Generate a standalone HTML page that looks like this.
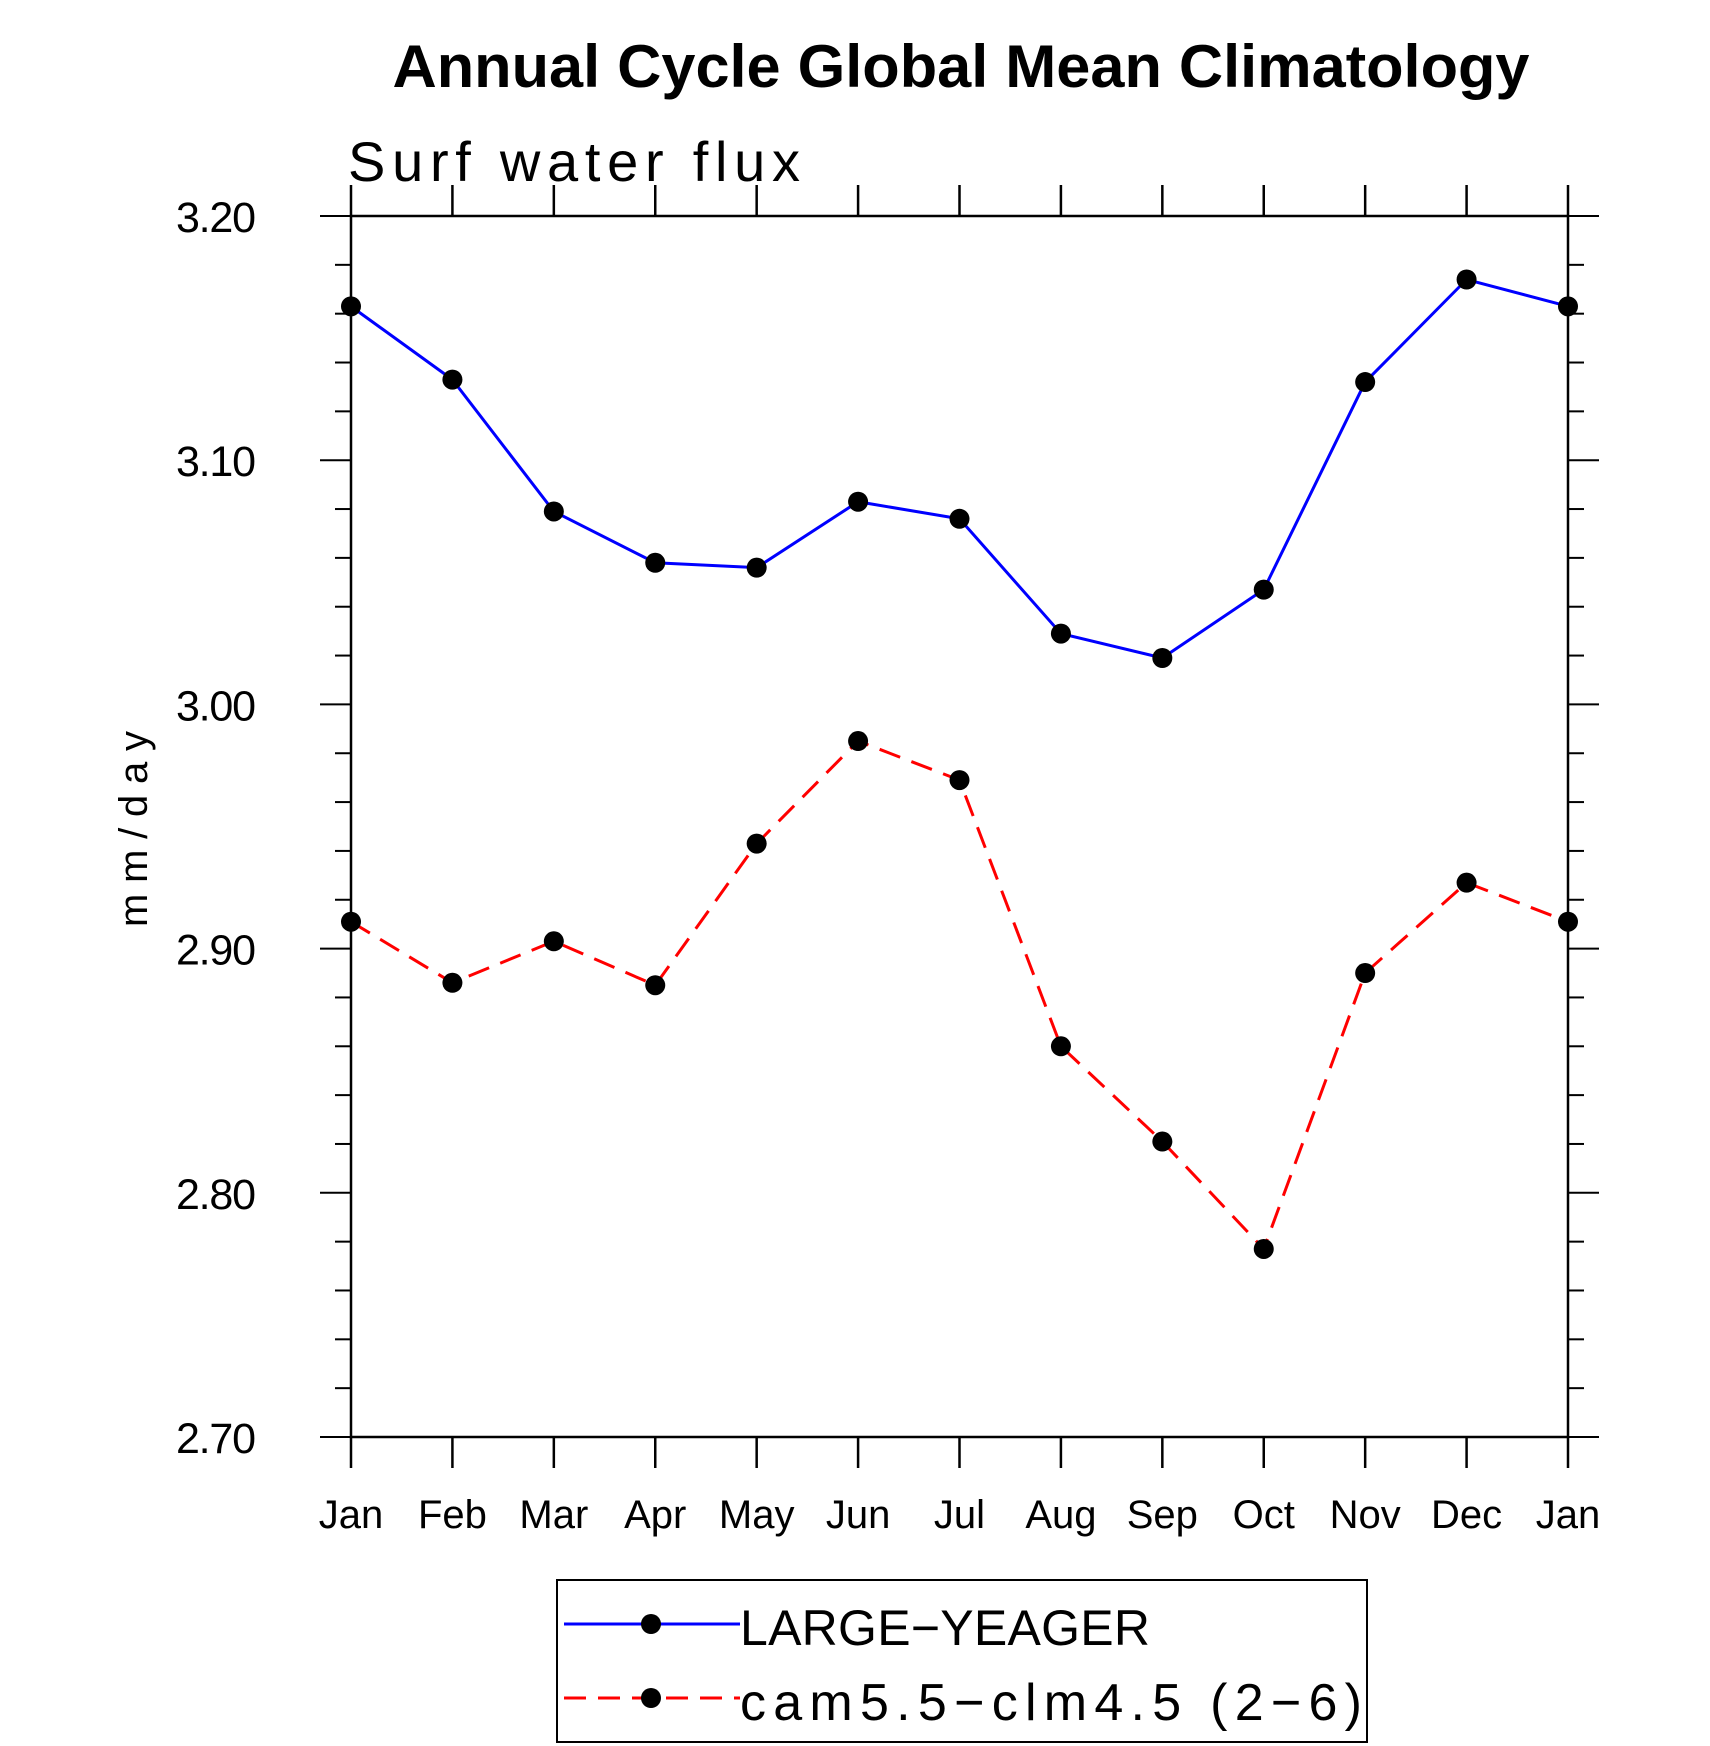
<!DOCTYPE html>
<html><head><meta charset="utf-8"><style>
html,body{margin:0;padding:0;background:#fff;}
svg{display:block;font-family:"Liberation Sans",sans-serif;}
</style></head><body>
<svg id="chart" width="1710" height="1746" viewBox="0 0 1710 1746" xmlns="http://www.w3.org/2000/svg">
<text x="961" y="87" text-anchor="middle" font-size="60" font-weight="bold" textLength="1137" lengthAdjust="spacingAndGlyphs">Annual Cycle Global Mean Climatology</text>
<text x="348" y="181" font-size="56" font-weight="300" textLength="452" lengthAdjust="spacing">Surf water flux</text>
<text transform="translate(147,829) rotate(-90)" text-anchor="middle" font-size="40" textLength="196" lengthAdjust="spacing">mm/day</text>
<g id="axes"></g>
<g id="series"></g>
<g>
<rect x="557" y="1580" width="810" height="162" fill="none" stroke="#000" stroke-width="2"/>
<g>
<line x1="564" y1="1624" x2="740" y2="1624" stroke="#00f" stroke-width="3"/>
<circle cx="651" cy="1624" r="10" fill="#000"/>
<text x="740" y="1645" font-size="50" textLength="410" lengthAdjust="spacing">LARGE−YEAGER</text>
</g>
<g>
<line x1="564" y1="1698" x2="740" y2="1698" stroke="#f00" stroke-width="3" stroke-dasharray="22,12"/>
<circle cx="651" cy="1698" r="10" fill="#000"/>
<text x="740" y="1720" font-size="52" textLength="622" lengthAdjust="spacing">cam5.5−clm4.5 (2−6)</text>
</g>
</g>
</svg>
<script>
const months = ["Jan","Feb","Mar","Apr","May","Jun","Jul","Aug","Sep","Oct","Nov","Dec","Jan"];
const largeYeager = [3.163,3.133,3.079,3.058,3.056,3.083,3.076,3.029,3.019,3.047,3.132,3.174,3.163];
const cam55 = [2.911,2.886,2.903,2.885,2.943,2.985,2.969,2.860,2.821,2.777,2.890,2.927,2.911];
const yTicks = [2.70,2.80,2.90,3.00,3.10,3.20];
const yTickLabels = ["2.70","2.80","2.90","3.00","3.10","3.20"];

const NS="http://www.w3.org/2000/svg";
const L=351,R=1568,T=216,B=1437;
const yMin=2.70,yMax=3.20;
const xs=i=>L+(R-L)*i/(months.length-1);
const ys=v=>B-(v-yMin)/(yMax-yMin)*(B-T);
function mk(tag,attrs,parent){const e=document.createElementNS(NS,tag);for(const k in attrs)e.setAttribute(k,attrs[k]);parent.appendChild(e);return e;}
const ax=document.getElementById('axes');
const fr=mk('rect',{x:L,y:T,width:R-L,height:B-T,fill:'none',stroke:'#000','stroke-width':2.5},ax);


const MJ=31,MN=16;
months.forEach((m,i)=>{
  const x=xs(i);
  mk('line',{x1:x,y1:B,x2:x,y2:B+MJ,stroke:'#000','stroke-width':2.5},ax);
  mk('line',{x1:x,y1:T,x2:x,y2:T-MJ,stroke:'#000','stroke-width':2.5},ax);
  const t=mk('text',{x:x,y:1528,'text-anchor':'middle','font-size':40},ax);
  t.textContent=m;
  
  
});
for(let k=0;k<=25;k++){
  const v=yMin+k*0.02;const y=ys(v);const major=k%5===0;const len=major?MJ:MN;
  mk('line',{x1:L,y1:y,x2:L-len,y2:y,stroke:'#000','stroke-width':2},ax);
  mk('line',{x1:R,y1:y,x2:R+len,y2:y,stroke:'#000','stroke-width':2},ax);
}
yTicks.forEach((v,i)=>{
  const t=mk('text',{x:256,y:ys(v)+16,'text-anchor':'end','font-size':43,textLength:80,lengthAdjust:'spacing'},ax);
  t.textContent=yTickLabels[i];
  
  
});
const sg=document.getElementById('series');
function drawSeries(vals,color,dash,name){
  const g=mk('g',{},sg);
  
  
  const pts=vals.map((v,i)=>xs(i)+','+ys(v)).join(' ');
  const pl=mk('polyline',{points:pts,fill:'none',stroke:color,'stroke-width':3},g);
  if(dash)pl.setAttribute('stroke-dasharray',dash);
  
  
  vals.forEach((v,i)=>{
    const c=mk('circle',{cx:xs(i),cy:ys(v),r:10,fill:'#000'},g);
    
    
  });
}
drawSeries(largeYeager,'#00f',null,'large-yeager-series');
drawSeries(cam55,'#f00','22,12','cam55-series');
</script>
</body></html>
